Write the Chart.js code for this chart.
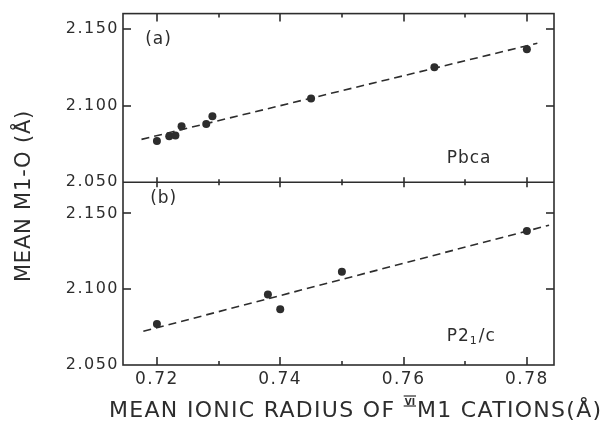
<!DOCTYPE html>
<html>
<head>
<meta charset="utf-8">
<script src="https://cdn.jsdelivr.net/npm/chart.js@4.4.1/dist/chart.umd.min.js"></script>
<style>
  html, body { margin: 0; padding: 0; background: #fff; }
  #wrap { width: 604px; height: 423px; }
</style>
</head>
<body>
<div id="wrap"><canvas id="chart" width="604" height="423"></canvas></div>
<script>
// panel (a): Pbca
const pbcaRadius = [0.720, 0.722, 0.723, 0.724, 0.728, 0.729, 0.745, 0.765, 0.780];
const pbcaM1O    = [2.077, 2.080, 2.0805, 2.0866, 2.088, 2.093, 2.1047, 2.125, 2.1368];
const pbcaFitX   = [0.7175, 0.7817];
const pbcaFitY   = [2.078, 2.1407];

// panel (b): P21/c
const p21cRadius = [0.720, 0.738, 0.740, 0.750, 0.780];
const p21cM1O    = [2.077, 2.0965, 2.0868, 2.1115, 2.1384];
const p21cFitX   = [0.7178, 0.7836];
const p21cFitY   = [2.0722, 2.1422];

// axes
const xTicks      = [0.72, 0.74, 0.76, 0.78];
const xMinorTicks = [0.73, 0.75, 0.77];
const yTicks      = [2.050, 2.100, 2.150];

const ink = '#2d2d2d';
const FONT = "'DejaVu Sans', sans-serif";

const pairs = (xs, ys) => xs.map((x, i) => ({ x: x, y: ys[i] }));

// frame, inward ticks, panel labels and axis titles
const framePlugin = {
  id: 'frame',
  beforeDraw(chart) {
    chart.ctx.letterSpacing = '1.5px';
  },
  afterDraw(chart) {
    const { ctx, chartArea: a, scales } = chart;
    const sx = scales.x, ya = scales.ya, yb = scales.yb;
    const mid = ya.bottom;
    ctx.save();
    ctx.setLineDash([]);
    ctx.letterSpacing = '0px';
    ctx.strokeStyle = ink;
    ctx.lineWidth = 1.6;
    function seg(x1, y1, x2, y2) {
      ctx.beginPath();
      ctx.moveTo(x1, y1);
      ctx.lineTo(x2, y2);
      ctx.stroke();
    }
    ctx.strokeRect(a.left, a.top, a.right - a.left, a.bottom - a.top);
    seg(a.left, mid, a.right, mid);

    for (const v of xTicks) {
      const tx = Math.round(sx.getPixelForValue(v));
      seg(tx, a.bottom, tx, a.bottom - 8);
      seg(tx, a.top, tx, a.top + 8);
      seg(tx, mid - 5, tx, mid + 5);
    }
    for (const v of xMinorTicks) {
      const tx = Math.round(sx.getPixelForValue(v));
      seg(tx, a.bottom, tx, a.bottom - 4);
      seg(tx, a.top, tx, a.top + 4);
      seg(tx, mid - 3, tx, mid + 3);
    }
    for (const s of [ya, yb]) {
      for (const v of yTicks.slice(1)) {
        const ty = Math.round(s.getPixelForValue(v));
        seg(a.left, ty, a.left + 8, ty);
        seg(a.right, ty, a.right - 8, ty);
      }
    }

    // panel labels
    ctx.fillStyle = ink;
    ctx.textBaseline = 'middle';
    ctx.textAlign = 'left';
    ctx.letterSpacing = '1px';
    ctx.font = '17px ' + FONT;
    ctx.fillText('(a)', sx.getPixelForValue(0.7181), ya.getPixelForValue(2.1428));
    ctx.fillText('(b)', sx.getPixelForValue(0.7189), yb.getPixelForValue(2.1596));
    ctx.fillText('Pbca', sx.getPixelForValue(0.767), ya.getPixelForValue(2.0654));
    let lx = sx.getPixelForValue(0.767);
    const ly = yb.getPixelForValue(2.0689);
    ctx.fillText('P2', lx, ly);
    lx += ctx.measureText('P2').width;
    ctx.font = '11px ' + FONT;
    ctx.fillText('1', lx, ly + 5);
    lx += ctx.measureText('1').width + 1;
    ctx.font = '17px ' + FONT;
    ctx.fillText('/c', lx, ly);

    // x title with superscript roman VI
    ctx.textBaseline = 'alphabetic';
    ctx.letterSpacing = '1.3px';
    ctx.font = '22px ' + FONT;
    let hx = 109;
    const hy = 417;
    const t1 = 'MEAN IONIC RADIUS OF ';
    ctx.fillText(t1, hx, hy);
    hx += ctx.measureText(t1).width;
    ctx.font = 'bold 9px ' + FONT;
    ctx.letterSpacing = '0px';
    const sw = ctx.measureText('VI').width;
    ctx.fillText('VI', hx + 1, hy - 12);
    ctx.lineWidth = 1.2;
    seg(hx, hy - 21, hx + sw + 2, hy - 21);
    seg(hx, hy - 11, hx + sw + 2, hy - 11);
    hx += sw + 3;
    ctx.font = '22px ' + FONT;
    ctx.letterSpacing = '1.3px';
    ctx.fillText('M1 CATIONS(Å)', hx, hy);

    // y title
    ctx.translate(25, 196);
    ctx.rotate(-Math.PI / 2);
    ctx.textAlign = 'center';
    ctx.textBaseline = 'middle';
    ctx.letterSpacing = '0.8px';
    ctx.font = '21px ' + FONT;
    ctx.fillText('MEAN M1-O (Å)', 0, 0);
    ctx.restore();
  }
};

const yScale = (weight, max) => ({
  type: 'linear',
  position: 'left',
  stack: 'panels',
  stackWeight: weight,
  min: 2.050,
  max: max,
  grid: { display: false, drawTicks: false },
  border: { display: false },
  ticks: {
    color: ink,
    font: { family: FONT, size: 16 },
    padding: 4,
    callback: v => v.toFixed(3)
  },
  afterBuildTicks: s => { s.ticks = yTicks.map(v => ({ value: v })); },
  afterFit: s => { s.width = 123; }
});

const ctx = document.getElementById('chart').getContext('2d');
const chart = new Chart(ctx, {
  type: 'scatter',
  data: {
    datasets: [
      {
        label: 'Pbca',
        data: pairs(pbcaRadius, pbcaM1O),
        yAxisID: 'ya',
        pointRadius: 4,
        pointBackgroundColor: ink,
        pointBorderColor: ink,
        pointBorderWidth: 0
      },
      {
        label: 'Pbca fit',
        data: pairs(pbcaFitX, pbcaFitY),
        yAxisID: 'ya',
        showLine: true,
        pointRadius: 0,
        borderColor: ink,
        borderWidth: 1.6,
        borderDash: [8, 5]
      },
      {
        label: 'P21/c',
        data: pairs(p21cRadius, p21cM1O),
        yAxisID: 'yb',
        pointRadius: 4,
        pointBackgroundColor: ink,
        pointBorderColor: ink,
        pointBorderWidth: 0
      },
      {
        label: 'P21/c fit',
        data: pairs(p21cFitX, p21cFitY),
        yAxisID: 'yb',
        showLine: true,
        pointRadius: 0,
        borderColor: ink,
        borderWidth: 1.6,
        borderDash: [8, 5]
      }
    ]
  },
  options: {
    responsive: false,
    animation: false,
    devicePixelRatio: 1,
    layout: { padding: { top: 13, right: 50, left: 0, bottom: 0 } },
    plugins: {
      legend: { display: false },
      tooltip: { enabled: false }
    },
    scales: {
      x: {
        type: 'linear',
        position: 'bottom',
        min: 0.7145,
        max: 0.7844,
        grid: { display: false, drawTicks: false },
        border: { display: false },
        ticks: {
          color: ink,
          font: { family: FONT, size: 17 },
          padding: 4,
          autoSkip: false,
          maxRotation: 0,
          callback: v => v.toFixed(2)
        },
        afterBuildTicks: s => { s.ticks = xTicks.map(v => ({ value: v })); },
        afterFit: s => { s.height = 58; }
      },
      yb: yScale(183, 2.1705),
      ya: yScale(169, 2.160)
    }
  },
  plugins: [framePlugin]
});
</script>
</body>
</html>
